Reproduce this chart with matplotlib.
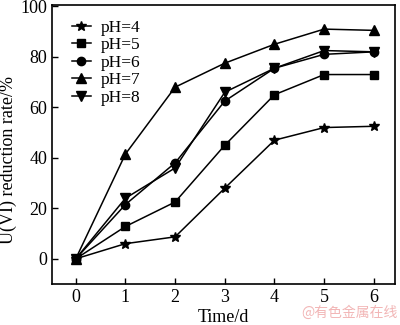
import matplotlib
matplotlib.use("Agg")
import matplotlib.pyplot as plt

# reduction rate of U(VI) over time at different pH
days = [0, 1, 2, 3, 4, 5, 6]
ph4 = [0, 6, 8.7, 28, 47, 52, 52.5]
ph5 = [0, 12.8, 22.5, 45, 65, 73, 73]
ph6 = [0, 21.5, 38, 62.5, 75.5, 81, 82]
ph7 = [0, 41.5, 68, 77.5, 85, 91, 90.5]
ph8 = [0, 24, 36, 66, 75.5, 82.5, 82]
labels = ["pH=4", "pH=5", "pH=6", "pH=7", "pH=8"]
markers = ["*", "s", "o", "^", "v"]
sizes = [7.5, 5.5, 6, 6.5, 6.5]

plt.rcParams["font.family"] = ["Liberation Serif", "DejaVu Serif"]

fig = plt.figure(figsize=(4, 3.25), dpi=100)
ax = fig.add_axes([0.131, 0.126, 0.857, 0.859])

for ys, lab, m, ms in zip([ph4, ph5, ph6, ph7, ph8], labels, markers, sizes):
    ax.plot(days, ys, color="black", lw=1.1, marker=m, markersize=ms, label=lab)

ax.set_xlim(-0.47, 6.43)
ax.set_ylim(-10, 100.6)
ax.set_xticks(days)
ax.set_yticks([0, 20, 40, 60, 80, 100])
ax.tick_params(direction="in", labelsize=13, length=4, width=1)
for s in ax.spines.values():
    s.set_linewidth(1.2)

ax.set_xlabel("Time/d", fontsize=13, labelpad=2)
ax.set_ylabel("U(VI) reduction rate/%", fontsize=13)
ax.yaxis.set_label_coords(-0.104, 0.444)

ax.legend(loc="upper left", frameon=False, fontsize=12.5, handlelength=1.1,
          handletextpad=0.6, labelspacing=0.08, borderaxespad=0,
          bbox_to_anchor=(0.036, 0.972))

fig.text(0.995, 0.037, "@有色金属在线", color="#f2b6b6", fontsize=10,
         ha="right", va="center",
         family=["Noto Sans CJK SC", "DejaVu Sans"])

fig.savefig("out.png", dpi=100)
